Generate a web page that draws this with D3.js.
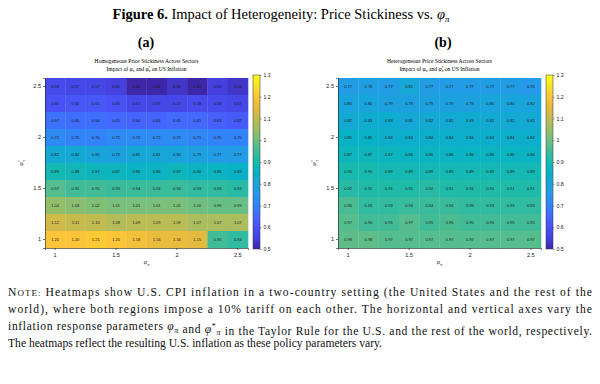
<!DOCTYPE html>
<html>
<head>
<meta charset="utf-8">
<script src="https://cdn.jsdelivr.net/npm/d3@7"></script>
<style>
  body { margin: 0; background: #fff; }
  svg { display: block; }
  .serif { font-family: "Liberation Serif", "DejaVu Serif", serif; }
  .sans { font-family: "Liberation Sans", Arial, sans-serif; }
</style>
</head>
<body>
<svg id="chart" width="600" height="384"></svg>
<script>
// phi_pi (columns) and phi*_pi (rows, top to bottom)
var phiPi = ["1.00", "1.17", "1.33", "1.50", "1.67", "1.83", "2.00", "2.17", "2.33", "2.50"];
var phiStar = ["2.50", "2.33", "2.17", "2.00", "1.83", "1.67", "1.50", "1.33", "1.17", "1.00"];
var xTickLabels = { "1.00": "1", "1.50": "1.5", "2.00": "2", "2.50": "2.5" };
var cbTicks = [0.5, 0.6, 0.7, 0.8, 0.9, 1.0, 1.1, 1.2, 1.3];

// homogeneous price stickiness (panel a)
var homValues = [
    [0.58, 0.57, 0.57, 0.55, 0.50, 0.50, 0.53, 0.49, 0.55, 0.53],
    [0.60, 0.61, 0.61, 0.60, 0.57, 0.57, 0.57, 0.58, 0.58, 0.57],
    [0.67, 0.66, 0.66, 0.65, 0.64, 0.64, 0.65, 0.65, 0.63, 0.62],
    [0.72, 0.70, 0.70, 0.72, 0.72, 0.72, 0.72, 0.71, 0.70, 0.70],
    [0.82, 0.82, 0.80, 0.79, 0.81, 0.81, 0.80, 0.79, 0.77, 0.77],
    [0.89, 0.88, 0.87, 0.87, 0.86, 0.86, 0.87, 0.86, 0.86, 0.85],
    [0.97, 0.95, 0.95, 0.94, 0.94, 0.94, 0.94, 0.93, 0.93, 0.92],
    [1.04, 1.03, 1.02, 1.01, 1.01, 1.01, 1.01, 1.00, 0.99, 0.99],
    [1.12, 1.11, 1.10, 1.08, 1.09, 1.09, 1.09, 1.07, 1.07, 1.07],
    [1.20, 1.20, 1.21, 1.20, 1.18, 1.16, 1.16, 1.15, 0.95, 0.93]
];

// heterogeneous price stickiness (panel b)
var hetValues = [
    [0.77, 0.78, 0.77, 0.81, 0.77, 0.77, 0.77, 0.77, 0.77, 0.76],
    [0.80, 0.80, 0.79, 0.79, 0.79, 0.79, 0.79, 0.80, 0.80, 0.80],
    [0.82, 0.83, 0.83, 0.81, 0.82, 0.82, 0.83, 0.82, 0.82, 0.82],
    [0.85, 0.85, 0.84, 0.84, 0.84, 0.84, 0.84, 0.84, 0.84, 0.84],
    [0.87, 0.87, 0.87, 0.86, 0.86, 0.86, 0.86, 0.86, 0.86, 0.86],
    [0.90, 0.90, 0.89, 0.89, 0.89, 0.89, 0.89, 0.89, 0.89, 0.89],
    [0.92, 0.91, 0.91, 0.91, 0.92, 0.91, 0.91, 0.91, 0.91, 0.91],
    [0.96, 0.93, 0.93, 0.94, 0.94, 0.94, 0.93, 0.93, 0.93, 0.93],
    [0.97, 0.95, 0.95, 0.97, 0.95, 0.96, 0.95, 0.95, 0.95, 0.95],
    [0.98, 0.98, 0.97, 0.97, 0.97, 0.97, 0.97, 0.97, 0.97, 0.97]
];

// rough parula colormap
var parula = [
    [0.2422, 0.1504, 0.6603], [0.2691, 0.2521, 0.8725], [0.2810, 0.3228, 0.9579],
    [0.2670, 0.4135, 0.9933], [0.1947, 0.5139, 0.9742], [0.1540, 0.5902, 0.9218],
    [0.0983, 0.6424, 0.8591], [0.0339, 0.6954, 0.7800], [0.0938, 0.7279, 0.6815],
    [0.2586, 0.7317, 0.5917], [0.4420, 0.7481, 0.5033], [0.6131, 0.7446, 0.4031],
    [0.7588, 0.7318, 0.3217], [0.8929, 0.7305, 0.2438], [0.9892, 0.7670, 0.2244],
    [0.9610, 0.8929, 0.1537], [0.9769, 0.9839, 0.0805]
].map(function (c) { return d3.rgb(c[0] * 255, c[1] * 255, c[2] * 255).formatHex(); });

var cmin = 0.5, cmax = 1.3;
var color = d3.scaleLinear()
    .domain(parula.map(function (d, i) { return cmin + (cmax - cmin) * i / (parula.length - 1); }))
    .range(parula)
    .interpolate(d3.interpolateRgb)
    .clamp(true);

var svg = d3.select("#chart");

// figure title
var title = svg.append("text").attr("class", "serif")
    .attr("x", 281).attr("y", 19).attr("text-anchor", "middle").attr("font-size", 14.5);
title.append("tspan").attr("font-weight", "bold").text("Figure 6.");
title.append("tspan").text(" Impact of Heterogeneity: Price Stickiness vs. ");
title.append("tspan").attr("font-style", "italic").text("φ");
title.append("tspan").attr("font-style", "italic").attr("font-size", 9).attr("dy", 3).text("π");

function drawPanel(opts) {
    var g = svg.append("g").attr("transform", "translate(" + opts.left + "," + opts.top + ")");
    var w = opts.width, h = opts.height;

    var x = d3.scaleBand().domain(phiPi).range([0, w]);
    var y = d3.scaleBand().domain(phiStar).range([0, h]);

    // panel letter
    svg.append("text").attr("class", "serif")
        .attr("x", opts.letterX).attr("y", 47)
        .attr("text-anchor", "middle").attr("font-size", 14).attr("font-weight", "bold")
        .text(opts.letter);

    // little titles
    g.append("text").attr("class", "serif")
        .attr("x", w / 2).attr("y", -15).attr("text-anchor", "middle").attr("font-size", 5.6)
        .text(opts.title);
    var sub = g.append("text").attr("class", "serif")
        .attr("x", w / 2).attr("y", -7).attr("text-anchor", "middle").attr("font-size", 5.6);
    sub.append("tspan").text("Impact of ");
    sub.append("tspan").attr("font-style", "italic").text("φ");
    sub.append("tspan").attr("font-size", 3.8).attr("dy", 1.2).text("π");
    sub.append("tspan").attr("dy", -1.2).text(" and ");
    sub.append("tspan").attr("font-style", "italic").text("φ");
    sub.append("tspan").attr("font-size", 3.8).attr("dy", -2).text("*");
    sub.append("tspan").attr("font-size", 3.8).attr("dx", -2).attr("dy", 3.2).text("π");
    sub.append("tspan").attr("dy", -1.2).text(" on US Inflation");

    var cells = [];
    opts.values.forEach(function (row, i) {
        row.forEach(function (v, j) {
            cells.push({ r: phiStar[i], c: phiPi[j], v: v });
        });
    });

    g.selectAll("rect.cell").data(cells).enter().append("rect")
        .attr("class", "cell")
        .attr("x", function (d) { return x(d.c); })
        .attr("y", function (d) { return y(d.r); })
        .attr("width", x.bandwidth() + 0.3)
        .attr("height", y.bandwidth() + 0.3)
        .attr("fill", function (d) { return color(d.v); });

    g.selectAll("text.val").data(cells).enter().append("text")
        .attr("class", "val sans")
        .attr("x", function (d) { return x(d.c) + x.bandwidth() / 2; })
        .attr("y", function (d) { return y(d.r) + y.bandwidth() / 2 + 1.4; })
        .attr("text-anchor", "middle")
        .attr("font-size", 4)
        .attr("fill", "#1a1a1a")
        .text(function (d) { return d.v.toFixed(2); });

    // axes
    var xAxis = d3.axisBottom(x)
        .tickValues(Object.keys(xTickLabels))
        .tickFormat(function (d) { return xTickLabels[d]; })
        .tickSize(2).tickPadding(2);
    var yAxis = d3.axisLeft(y)
        .tickValues(["2.50", "2.00", "1.50", "1.00"])
        .tickFormat(function (d) { return xTickLabels[d]; })
        .tickSize(2).tickPadding(2);

    var gx = g.append("g").attr("transform", "translate(0," + h + ")").call(xAxis);
    var gy = g.append("g").call(yAxis);
    [gx, gy].forEach(function (a) {
        a.select(".domain").attr("stroke", "#222").attr("stroke-width", 0.6);
        a.selectAll(".tick line").attr("stroke", "#222").attr("stroke-width", 0.6);
        a.selectAll(".tick text").attr("font-size", 5.6).attr("fill", "#222")
            .attr("font-family", "Liberation Sans, Arial, sans-serif");
    });
    gx.selectAll(".tick text").attr("dy", "0.9em");

    // axis labels
    var xl = g.append("text").attr("class", "serif")
        .attr("x", w / 2).attr("y", h + 16).attr("text-anchor", "middle")
        .attr("font-size", 6).attr("font-style", "italic").attr("fill", "#333");
    xl.append("tspan").text("φ");
    xl.append("tspan").attr("font-size", 4).attr("dy", 1.5).text("π");

    var yl = g.append("text").attr("class", "serif")
        .attr("transform", "translate(-22," + (h / 2) + ") rotate(-90)")
        .attr("text-anchor", "middle")
        .attr("font-size", 6).attr("font-style", "italic").attr("fill", "#333");
    yl.append("tspan").text("φ");
    yl.append("tspan").attr("font-size", 4).attr("dy", -2).text("*");
    yl.append("tspan").attr("font-size", 4).attr("dx", -2).attr("dy", 3.5).text("π");

    // colorbar
    var cbX = w + 5, cbW = 7;
    var cy = d3.scaleLinear().domain([cmin, cmax]).range([h + 1, -3]);
    var defs = svg.append("defs");
    var gid = "grad" + opts.letter.replace(/\W/g, "");
    var grad = defs.append("linearGradient").attr("id", gid)
        .attr("x1", 0).attr("y1", 1).attr("x2", 0).attr("y2", 0);
    parula.forEach(function (c, i) {
        grad.append("stop").attr("offset", i / (parula.length - 1)).attr("stop-color", c);
    });
    g.append("rect")
        .attr("x", cbX).attr("y", cy(cmax)).attr("width", cbW).attr("height", cy(cmin) - cy(cmax))
        .attr("fill", "url(#" + gid + ")")
        .attr("stroke", "#333").attr("stroke-width", 0.5);
    var cbAxis = d3.axisRight(cy).tickValues(cbTicks)
        .tickFormat(function (d) { return d3.format("~g")(d); })
        .tickSize(1.5).tickPadding(2);
    var gc = g.append("g").attr("transform", "translate(" + (cbX + cbW) + ",0)").call(cbAxis);
    gc.select(".domain").remove();
    gc.selectAll(".tick line").attr("stroke", "#333").attr("stroke-width", 0.5);
    gc.selectAll(".tick text").attr("font-size", 5.2).attr("fill", "#222")
        .attr("font-family", "Liberation Sans, Arial, sans-serif");
}

drawPanel({ left: 45, top: 78, width: 203, height: 170, values: homValues, letter: "(a)", letterX: 146,
    title: "Homogeneous Price Stickiness Across Sectors" });
drawPanel({ left: 338, top: 78, width: 203, height: 170, values: hetValues, letter: "(b)", letterX: 443,
    title: "Heterogeneous Price Stickiness Across Sectors" });

// note under the figure
var noteLines = [
    { y: 296, len: 584, parts: [["sc", "Note:"], ["", " Heatmaps show U.S. CPI inflation in a two-country setting (the United States and the rest of the"]] },
    { y: 313, len: 584, parts: [["", "world), where both regions impose a 10% tariff on each other. The horizontal and vertical axes vary the"]] },
    { y: 330, len: 584, parts: [["", "inflation response parameters "], ["i", "φ"], ["sub", "π"], ["", " and "], ["i", "φ"], ["supsub", "π"], ["", " in the Taylor Rule for the U.S. and the rest of the world, respectively."]] },
    { y: 347, len: null, parts: [["", "The heatmaps reflect the resulting U.S. inflation as these policy parameters vary."]] }
];

noteLines.forEach(function (line) {
    var t = svg.append("text").attr("class", "serif")
        .attr("x", 8).attr("y", line.y).attr("font-size", 11.6).attr("fill", "#111");
    if (line.len) t.attr("textLength", line.len).attr("lengthAdjust", "spacing");
    line.parts.forEach(function (p) {
        if (p[0] === "sc") {
            t.append("tspan").text("N");
            t.append("tspan").attr("font-size", 9).text("OTE:");
        } else if (p[0] === "i") {
            t.append("tspan").attr("font-style", "italic").text(p[1]);
        } else if (p[0] === "sub") {
            t.append("tspan").attr("font-size", 8).attr("font-style", "italic").attr("dy", 2.5).text(p[1]);
            t.append("tspan").attr("dy", -2.5).text("");
        } else if (p[0] === "supsub") {
            t.append("tspan").attr("font-size", 8).attr("dy", -4).text("*");
            t.append("tspan").attr("font-size", 8).attr("font-style", "italic").attr("dy", 6.5).text(p[1]);
            t.append("tspan").attr("dy", -2.5).text("");
        } else {
            t.append("tspan").text(p[1]);
        }
    });
});
</script>
</body>
</html>
